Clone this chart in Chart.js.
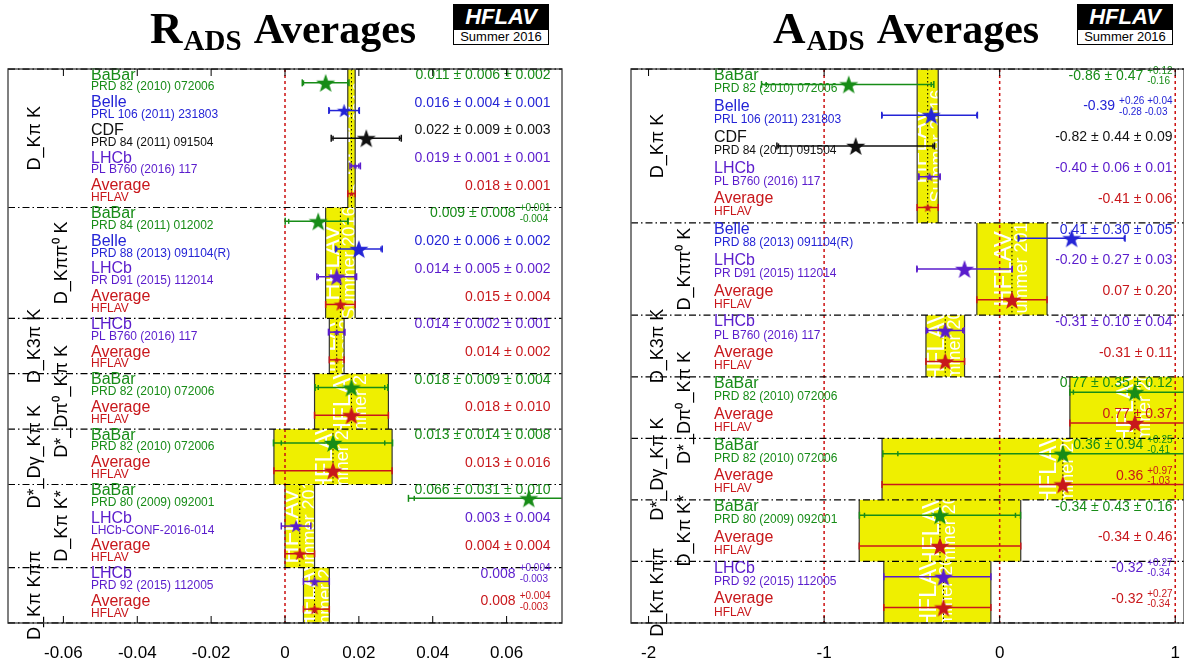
<!DOCTYPE html>
<html><head><meta charset="utf-8">
<script src="https://cdn.jsdelivr.net/npm/chart.js@4.4.0/dist/chart.umd.min.js"></script>
<style>
html,body{margin:0;padding:0;background:#fff;width:1184px;height:666px;overflow:hidden;position:relative;}
.cv{position:absolute;top:0;}
.title{position:absolute;top:7px;font-family:'Liberation Serif','Times New Roman',serif;font-weight:bold;font-size:42px;line-height:42px;white-space:nowrap;color:#000;}
.title .big{font-size:45px;}
.title .sub{font-size:29px;position:relative;top:7px;margin-left:1px;margin-right:4px;}
.logo{position:absolute;top:4px;width:96px;}
.logo .top{background:#000;color:#fff;height:25px;font:italic bold 22px 'Liberation Sans',Arial,sans-serif;line-height:26px;text-align:center;}
.logo .bot{background:#fff;border:1px solid #000;height:16px;width:96px;box-sizing:border-box;font:13px 'Liberation Sans',Arial,sans-serif;line-height:14px;text-align:center;}
</style></head>
<body>
<canvas id="cR" class="cv" style="left:0" width="592" height="666"></canvas>
<canvas id="cA" class="cv" style="left:592px" width="592" height="666"></canvas>
<div class="title" style="left:150px"><span class="big">R</span><span class="sub">ADS</span> Averages</div>
<div class="logo" style="left:453px"><div class="top">HFLAV</div><div class="bot">Summer 2016</div></div>
<div class="title" style="left:773px"><span class="big">A</span><span class="sub">ADS</span> Averages</div>
<div class="logo" style="left:1077px"><div class="top">HFLAV</div><div class="bot">Summer 2016</div></div>
<script>
// ---------------- R_ADS data ----------------
const rCategories  = ['D_Kπ K','D_Kππ⁰ K','D_K3π K','D*_Dπ⁰_Kπ K','D*_Dγ_Kπ K','D_Kπ K*','D_Kπ Kππ'];
const rSections    = [0,0,0,0,0, 1,1,1,1, 2,2, 3,3, 4,4, 5,5,5, 6,6];
const rExperiments = ['BaBar','Belle','CDF','LHCb','Average', 'BaBar','Belle','LHCb','Average', 'LHCb','Average', 'BaBar','Average', 'BaBar','Average', 'BaBar','LHCb','Average', 'LHCb','Average'];
const rReferences  = ['PRD 82 (2010) 072006','PRL 106 (2011) 231803','PRD 84 (2011) 091504','PL B760 (2016) 117','HFLAV',
                      'PRD 84 (2011) 012002','PRD 88 (2013) 091104(R)','PR D91 (2015) 112014','HFLAV',
                      'PL B760 (2016) 117','HFLAV','PRD 82 (2010) 072006','HFLAV','PRD 82 (2010) 072006','HFLAV',
                      'PRD 80 (2009) 092001','LHCb-CONF-2016-014','HFLAV','PRD 92 (2015) 112005','HFLAV'];
const rValues      = [0.011,0.016,0.022,0.019,0.018, 0.009,0.020,0.014,0.015, 0.014,0.014, 0.018,0.018, 0.013,0.013, 0.066,0.003,0.004, 0.008,0.008];
const rStatPlus    = [0.006,0.004,0.009,0.001,0.001, 0.008,0.006,0.005,0.004, 0.002,0.002, 0.009,0.010, 0.014,0.016, 0.031,0.004,0.004, 0.004,0.004];
const rStatMinus   = [0.006,0.004,0.009,0.001,0.001, 0.008,0.006,0.005,0.004, 0.002,0.002, 0.009,0.010, 0.014,0.016, 0.031,0.004,0.004, 0.003,0.003];
const rSystPlus    = [0.002,0.001,0.003,0.001,null, 0.001,0.002,0.002,null, 0.001,null, 0.004,null, 0.008,null, 0.010,null,null, null,null];
const rSystMinus   = [0.002,0.001,0.003,0.001,null, 0.004,0.002,0.002,null, 0.001,null, 0.004,null, 0.008,null, 0.010,null,null, null,null];
const rTickValues  = [-0.06,-0.04,-0.02,0,0.02,0.04,0.06];
const rTickLabels  = ['-0.06','-0.04','-0.02','0','0.02','0.04','0.06'];
const rRefLines    = [0];

// ---------------- A_ADS data ----------------
const aCategories  = ['D_Kπ K','D_Kππ⁰ K','D_K3π K','D*_Dπ⁰_Kπ K','D*_Dγ_Kπ K','D_Kπ K*','D_Kπ Kππ'];
const aSections    = [0,0,0,0,0, 1,1,1, 2,2, 3,3, 4,4, 5,5, 6,6];
const aExperiments = ['BaBar','Belle','CDF','LHCb','Average', 'Belle','LHCb','Average', 'LHCb','Average', 'BaBar','Average', 'BaBar','Average', 'BaBar','Average', 'LHCb','Average'];
const aReferences  = ['PRD 82 (2010) 072006','PRL 106 (2011) 231803','PRD 84 (2011) 091504','PL B760 (2016) 117','HFLAV',
                      'PRD 88 (2013) 091104(R)','PR D91 (2015) 112014','HFLAV','PL B760 (2016) 117','HFLAV',
                      'PRD 82 (2010) 072006','HFLAV','PRD 82 (2010) 072006','HFLAV','PRD 80 (2009) 092001','HFLAV',
                      'PRD 92 (2015) 112005','HFLAV'];
const aValues      = [-0.86,-0.39,-0.82,-0.40,-0.41, 0.41,-0.20,0.07, -0.31,-0.31, 0.77,0.77, 0.36,0.36, -0.34,-0.34, -0.32,-0.32];
const aStatPlus    = [0.47,0.26,0.44,0.06,0.06, 0.30,0.27,0.20, 0.10,0.11, 0.35,0.37, 0.94,0.97, 0.43,0.46, 0.27,0.27];
const aStatMinus   = [0.47,0.28,0.44,0.06,0.06, 0.30,0.27,0.20, 0.10,0.11, 0.35,0.37, 0.94,1.03, 0.43,0.46, 0.34,0.34];
const aSystPlus    = [0.12,0.04,0.09,0.01,null, 0.05,0.03,null, 0.04,null, 0.12,null, 0.25,null, 0.16,null, null,null];
const aSystMinus   = [0.16,0.03,0.09,0.01,null, 0.05,0.03,null, 0.04,null, 0.12,null, 0.41,null, 0.16,null, null,null];
const aTickValues  = [-2,-1,0,1];
const aTickLabels  = ['-2','-1','0','1'];
const aRefLines    = [-1,0,1];

// ---------------- styling ----------------
const EXP_ORDER = ['BaBar','Belle','CDF','LHCb','Average'];
const EXP_COLORS = {BaBar:'#178c17', Belle:'#2424d6', CDF:'#111111', LHCb:'#5a1ccc', Average:'#c8171b'};
const YELLOW = '#efef00';
const SANS = "'Liberation Sans', Arial, Helvetica, sans-serif";
Chart.defaults.font.family = SANS;

const starCache = {};
function starImage(color, R) {
  R = Math.round(R * 2) / 2;
  const key = color + '_' + R;
  if (starCache[key]) return starCache[key];
  const s = Math.ceil(2 * R + 2);
  const c = document.createElement('canvas');
  c.width = s; c.height = s;
  const g = c.getContext('2d');
  g.translate(s / 2, s / 2 + R * 0.09);
  g.beginPath();
  for (let k = 0; k < 10; k++) {
    const ang = -Math.PI / 2 + k * Math.PI / 5;
    const r = (k % 2) ? R * 0.40 : R;
    g.lineTo(r * Math.cos(ang), r * Math.sin(ang));
  }
  g.closePath();
  g.fillStyle = color;
  g.fill();
  starCache[key] = c;
  return c;
}

function valueText(P, i) {
  const d = P.decimals, f = v => v.toFixed(d);
  const v = P.values[i], sp = P.statPlus[i], sm = P.statMinus[i], yp = P.systPlus[i], ym = P.systMinus[i];
  const symS = sp === sm;
  if (yp !== null) {
    const symY = yp === ym;
    if (symS && symY) return {main: `${f(v)} ± ${f(sp)} ± ${f(yp)}`};
    if (symS) return {main: `${f(v)} ± ${f(sp)}`, sup: `+${f(yp)}`, sub: `-${f(ym)}`};
    return {main: f(v), sup: `+${f(sp)} +${f(yp)}`, sub: `-${f(sm)} -${f(ym)}`};
  }
  if (symS) return {main: `${f(v)} ± ${f(sp)}`};
  return {main: f(v), sup: `+${f(sp)}`, sub: `-${f(sm)}`};
}

function line(ctx, x0, y0, x1, y1) { ctx.beginPath(); ctx.moveTo(x0, y0); ctx.lineTo(x1, y1); ctx.stroke(); }

function buildPanel(canvasId, P) {
  const N = P.values.length;
  const totPlus = i => Math.hypot(P.statPlus[i], P.systPlus[i] || 0);
  const totMinus = i => Math.hypot(P.statMinus[i], P.systMinus[i] || 0);
  const secs = P.categories.map((c, k) => {
    const idx = P.sections.map((s, i) => s === k ? i : -1).filter(i => i >= 0);
    return {first: Math.min(...idx), last: Math.max(...idx), avg: idx.find(i => P.experiments[i] === 'Average')};
  });

  const datasets = EXP_ORDER.map(exp => ({
    label: exp,
    data: P.values.map((v, i) => ({x: v, y: i, row: i})).filter(p => P.experiments[p.row] === exp),
    pointStyle: (ctx) => {
      const i = ctx.raw.row, x = ctx.chart.scales.x;
      const w = Math.abs(x.getPixelForValue(P.values[i] + totPlus(i)) - x.getPixelForValue(P.values[i] - totMinus(i)));
      const R = Math.max(3.5, Math.min(10, w * 0.24));
      return starImage(EXP_COLORS[exp], R);
    },
    pointRadius: 5,
    showLine: false
  }));

  const drawPlugin = {
    id: 'hflav_' + canvasId,
    beforeDatasetsDraw(chart) {
      const {ctx, chartArea: a, scales: {x, y}} = chart;
      ctx.save();
      ctx.beginPath(); ctx.rect(a.left, a.top, a.width, a.height); ctx.clip();
      // average bands
      secs.forEach(s => {
        const v = P.values[s.avg];
        const lo = x.getPixelForValue(v - P.statMinus[s.avg]);
        const hi = x.getPixelForValue(v + P.statPlus[s.avg]);
        const top = y.getPixelForValue(s.first - 0.5), bot = y.getPixelForValue(s.last + 0.5);
        ctx.fillStyle = YELLOW;
        ctx.fillRect(lo, top, hi - lo, bot - top);
        // watermark
        ctx.save();
        ctx.beginPath(); ctx.rect(lo, top, hi - lo, bot - top); ctx.clip();
        ctx.translate((lo + hi) / 2, (top + bot) / 2);
        ctx.rotate(-Math.PI / 2);
        ctx.fillStyle = '#ffffff';
        ctx.textAlign = 'center'; ctx.textBaseline = 'middle';
        ctx.font = '24px ' + SANS;
        ctx.fillText('HFLAV', 0, -8);
        ctx.font = '18px ' + SANS;
        ctx.fillText('Summer 2016', 0, 10);
        ctx.restore();
        ctx.strokeStyle = '#333'; ctx.lineWidth = 1.2; ctx.setLineDash([]);
        line(ctx, lo, top, lo, bot); line(ctx, hi, top, hi, bot);
      });
      // reference lines
      ctx.strokeStyle = '#cc1111'; ctx.lineWidth = 1.5; ctx.setLineDash([3, 3]);
      P.refLines.forEach(r => { const px = x.getPixelForValue(r); line(ctx, px, a.top, px, a.bottom); });
      // separators
      ctx.strokeStyle = '#000'; ctx.lineWidth = 1.2; ctx.setLineDash([7, 3, 1.5, 3]);
      const bounds = [-0.5].concat(secs.map(s => s.last + 0.5));
      bounds.forEach(b => { const py = y.getPixelForValue(b); line(ctx, a.left, py, a.right, py); });
      // dotted average line
      ctx.strokeStyle = '#000'; ctx.lineWidth = 1; ctx.setLineDash([1.5, 2.5]);
      secs.forEach(s => {
        const px = x.getPixelForValue(P.values[s.avg]);
        line(ctx, px, y.getPixelForValue(s.first - 0.5), px, y.getPixelForValue(s.last + 0.5));
      });
      // error bars
      ctx.setLineDash([]); ctx.lineWidth = 1.5;
      for (let i = 0; i < N; i++) {
        const col = EXP_COLORS[P.experiments[i]];
        const v = P.values[i], cy = y.getPixelForValue(i);
        const x0 = x.getPixelForValue(v - totMinus(i)), x1 = x.getPixelForValue(v + totPlus(i));
        ctx.strokeStyle = col;
        line(ctx, x0, cy, x1, cy);
        line(ctx, x0, cy - 3.5, x0, cy + 3.5);
        line(ctx, x1, cy - 3.5, x1, cy + 3.5);
        if (P.systPlus[i] !== null) {
          const s0 = x.getPixelForValue(v - P.statMinus[i]), s1 = x.getPixelForValue(v + P.statPlus[i]);
          line(ctx, s0, cy - 2.5, s0, cy + 2.5);
          line(ctx, s1, cy - 2.5, s1, cy + 2.5);
        }
      }
      ctx.restore();
    },
    afterDatasetsDraw(chart) {
      const {ctx, chartArea: a, scales: {x, y}} = chart;
      const rowH = Math.abs(y.getPixelForValue(1) - y.getPixelForValue(0));
      ctx.save();
      ctx.textBaseline = 'middle';
      for (let i = 0; i < N; i++) {
        const col = EXP_COLORS[P.experiments[i]];
        const cy = y.getPixelForValue(i);
        const nameY = cy - 0.28 * rowH, refY = cy + 0.15 * rowH;
        ctx.fillStyle = col;
        ctx.textAlign = 'left';
        ctx.font = '16px ' + SANS;
        ctx.fillText(P.experiments[i], a.left + 83, nameY);
        ctx.font = '12px ' + SANS;
        ctx.fillText(P.references[i], a.left + 83, refY);
        const t = valueText(P, i);
        let xr = a.right - 11.5;
        if (t.sup) {
          ctx.font = '10px ' + SANS;
          const w = Math.max(ctx.measureText(t.sup).width, ctx.measureText(t.sub).width);
          ctx.textAlign = 'left';
          ctx.fillText(t.sup, xr - w, nameY - 5);
          ctx.fillText(t.sub, xr - w, nameY + 5.5);
          xr = xr - w - 4;
        }
        ctx.font = '14px ' + SANS;
        ctx.textAlign = 'right';
        ctx.fillText(t.main, xr, nameY);
      }
      // category labels
      ctx.fillStyle = '#000';
      ctx.font = '18px ' + SANS;
      ctx.textAlign = 'center';
      secs.forEach((s, k) => {
        const cx = a.left + (k % 2 === 0 ? 27 : 54);
        const cyS = (y.getPixelForValue(s.first - 0.5) + y.getPixelForValue(s.last + 0.5)) / 2;
        ctx.save();
        ctx.translate(cx, cyS);
        ctx.rotate(-Math.PI / 2);
        ctx.fillText(P.categories[k], 0, 0);
        ctx.restore();
      });
      // frame
      ctx.strokeStyle = '#555'; ctx.lineWidth = 1.5; ctx.setLineDash([]);
      ctx.strokeRect(a.left, a.top, a.width, a.height);
      ctx.strokeStyle = '#000'; ctx.lineWidth = 1.2; ctx.setLineDash([7, 3, 1.5, 3]);
      line(ctx, a.left, a.top, a.right, a.top);
      line(ctx, a.left, a.bottom, a.right, a.bottom);
      // ticks
      ctx.setLineDash([]); ctx.lineWidth = 1; ctx.strokeStyle = '#000';
      P.tickValues.forEach(t => {
        const px = x.getPixelForValue(t);
        line(ctx, px, a.bottom, px, a.bottom - 7);
        line(ctx, px, a.top, px, a.top + 7);
      });
      ctx.restore();
    }
  };

  return new Chart(document.getElementById(canvasId), {
    type: 'scatter',
    data: {datasets},
    options: {
      responsive: false,
      animation: false,
      events: [],
      layout: {autoPadding: false, padding: {top: 69, left: P.padLeft, right: P.padRight, bottom: 0}},
      plugins: {legend: {display: false}, tooltip: {enabled: false}},
      scales: {
        x: {
          type: 'linear', min: P.min, max: P.max,
          afterBuildTicks: s => { s.ticks = P.tickValues.map(v => ({value: v})); },
          afterFit: s => { s.height = 43; s.paddingLeft = 0; s.paddingRight = 0; },
          grid: {display: false, drawTicks: false},
          border: {display: false},
          ticks: {
            autoSkip: false, maxRotation: 0, padding: 20, color: '#000',
            font: {size: 17, family: SANS},
            callback: (v) => P.tickLabels[P.tickValues.indexOf(v)]
          }
        },
        y: {type: 'linear', min: -0.5, max: N - 0.5, reverse: true, display: false}
      }
    },
    plugins: [drawPlugin]
  });
}

buildPanel('cR', {
  categories: rCategories, sections: rSections, experiments: rExperiments, references: rReferences,
  values: rValues, statPlus: rStatPlus, statMinus: rStatMinus, systPlus: rSystPlus, systMinus: rSystMinus,
  tickValues: rTickValues, tickLabels: rTickLabels, refLines: rRefLines,
  min: -0.075, max: 0.075, decimals: 3, padLeft: 8, padRight: 30
});
buildPanel('cA', {
  categories: aCategories, sections: aSections, experiments: aExperiments, references: aReferences,
  values: aValues, statPlus: aStatPlus, statMinus: aStatMinus, systPlus: aSystPlus, systMinus: aSystMinus,
  tickValues: aTickValues, tickLabels: aTickLabels, refLines: aRefLines,
  min: -2.1, max: 1.05, decimals: 2, padLeft: 39, padRight: 0
});
</script>
</body></html>
